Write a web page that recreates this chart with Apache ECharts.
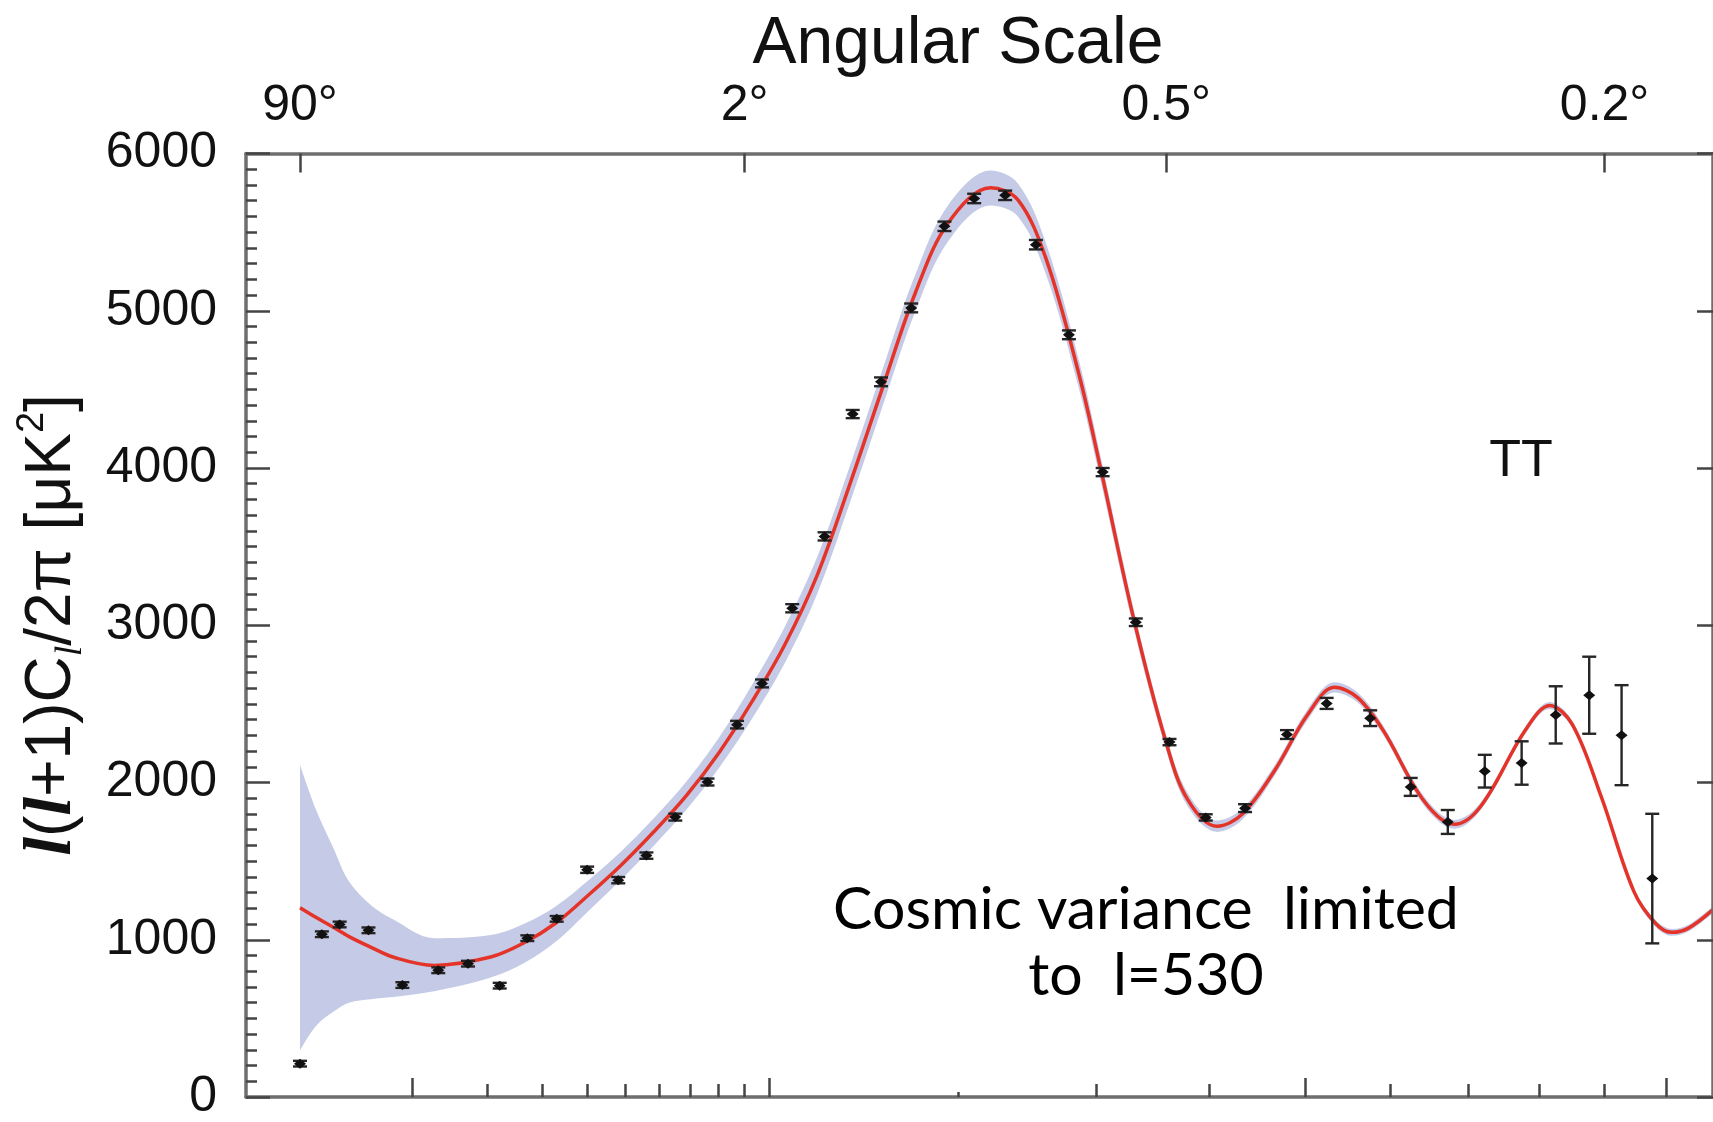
<!DOCTYPE html>
<html>
<head>
<meta charset="utf-8">
<title>TT power spectrum</title>
<script src="https://cdn.jsdelivr.net/npm/echarts@6.0.0/dist/echarts.min.js"></script>
<style>
  html, body { margin: 0; padding: 0; background: #fff; }
  #chart { width: 1713px; height: 1122px; }
</style>
</head>
<body>
<div id="chart"></div>
<script>
// binned data points: multipole, D_l, error
const dataL = [2, 3, 4, 6, 9, 13, 17, 22, 27, 33, 40, 48, 56, 65, 76, 87, 97, 110, 125, 139, 154, 171, 191, 210, 231, 253, 278, 305, 333, 363, 397, 436, 480, 524, 575, 625, 673, 723, 775, 825, 876, 927, 977];
const dataD = [212, 1035, 1097, 1060, 712, 806, 848, 708, 1010, 1133, 1445, 1379, 1535, 1780, 2003, 2368, 2630, 3108, 3565, 4343, 4548, 5018, 5537, 5714, 5734, 5420, 4847, 3974, 3019, 2257, 1778, 1837, 2305, 2503, 2409, 1972, 1749, 2072, 2124, 2430, 2555, 2301, 1389];
const dataE = [18, 18, 18, 18, 18, 18, 18, 18, 18, 18, 20, 20, 20, 22, 22, 24, 25, 26, 26, 26, 28, 28, 30, 30, 30, 30, 28, 26, 24, 20, 20, 25, 28, 35, 50, 57, 76, 104, 138, 182, 245, 318, 412];

// best fit model and cosmic variance band (same multipoles)
const modelL = [2, 2.7, 3.6, 4.6, 6.2, 8.1, 12.5, 20.5, 26.3, 32.9, 40.4, 48.9, 58.3, 68.8, 80.3, 92.9, 106.7, 121.5, 137.6, 154.9, 173.4, 193.2, 221, 240, 260.5, 285.7, 303, 330.8, 359.6, 379.7, 408, 433, 467, 502, 533, 560, 591, 632, 660, 682, 718, 780, 816, 850, 895, 947, 983, 1010, 1038, 1080];
const modelD = [1204, 1143, 1081, 1020, 952, 890, 837, 890, 979, 1108, 1286, 1477, 1688, 1920, 2193, 2514, 2876, 3319, 3899, 4513, 5113, 5557, 5782, 5705, 5331, 4601, 4008, 3053, 2262, 1893, 1722, 1798, 2078, 2426, 2605, 2540, 2330, 1955, 1784, 1734, 1852, 2330, 2490, 2370, 1907, 1306, 1102, 1047, 1074, 1190];
const bandUpper = [2111, 1830, 1590, 1370, 1220, 1130, 1010, 1030, 1100, 1215, 1380, 1565, 1775, 2010, 2290, 2620, 2990, 3435, 4015, 4630, 5230, 5670, 5892, 5810, 5430, 4690, 4085, 3115, 2310, 1935, 1758, 1833, 2112, 2460, 2638, 2572, 2360, 1985, 1812, 1762, 1876, 2352, 2512, 2392, 1929, 1328, 1124, 1069, 1096, 1212];
const bandLower = [296, 450, 540, 600, 622, 636, 672, 760, 850, 990, 1185, 1385, 1600, 1830, 2095, 2405, 2760, 3200, 3780, 4395, 4995, 5440, 5670, 5600, 5230, 4510, 3930, 2990, 2215, 1850, 1686, 1763, 2044, 2392, 2572, 2508, 2300, 1925, 1756, 1706, 1828, 2308, 2468, 2348, 1885, 1284, 1080, 1025, 1052, 1168];

// axis ticks
const bottomMajorL = [10, 100, 500, 1000];
const bottomMinorL = [20, 30, 40, 50, 60, 70, 80, 90, 300, 400, 600, 700, 800, 900];
const bottomShortL = [200];
const topTickL = [2, 90, 360, 900];
const topTickText = ['90°', '2°', '0.5°', '0.2°'];

// x axis runs in l^0.4
const T = l => Math.pow(l, 0.4);
const xMin = 0.745, xMax = 16.348;

const axisColor = '#6e6e6e';
const tickColor = '#444';
const sans = '"Liberation Sans", Arial, Helvetica, sans-serif';
const bandColor = '#c5cbe6';
const smoothness = 0.35;

const bottomAxis = (vals, len, showLine) => ({
  type: 'value', position: 'bottom', min: xMin, max: xMax, z: 10,
  axisLine: { show: showLine, onZero: false, lineStyle: { color: axisColor, width: 3.5 } },
  axisTick: { show: true, inside: true, length: len, customValues: vals.map(T), lineStyle: { color: tickColor, width: 2.5 } },
  axisLabel: { show: false },
  splitLine: { show: false }
});

const chart = echarts.init(document.getElementById('chart'));

const option = {
  animation: false,
  backgroundColor: '#fff',
  grid: { left: 246, top: 153.5, width: 1472, height: 960.5 },
  xAxis: [
    bottomAxis(bottomMajorL, 19, true),
    bottomAxis(bottomMinorL, 13, false),
    bottomAxis(bottomShortL, 5, false),
    {
      type: 'value', position: 'top', min: xMin, max: xMax, z: 10,
      axisLine: { show: true, onZero: false, lineStyle: { color: axisColor, width: 3.5 } },
      axisTick: { show: true, inside: true, length: 19, customValues: topTickL.map(T), lineStyle: { color: tickColor, width: 2.5 } },
      axisLabel: {
        show: true, customValues: topTickL.map(T), margin: 22,
        fontSize: 50, fontFamily: sans, color: '#111',
        formatter: v => {
          const i = topTickL.findIndex(l => Math.abs(T(l) - v) < 1e-6);
          return i >= 0 ? topTickText[i] : '';
        }
      },
      splitLine: { show: false }
    }
  ],
  yAxis: [
    {
      type: 'value', position: 'left', min: 0, max: 6000, interval: 1000, z: 10,
      axisLine: { show: true, onZero: false, lineStyle: { color: axisColor, width: 3.5 } },
      axisTick: { show: true, inside: true, length: 24, lineStyle: { color: tickColor, width: 2.5 } },
      minorTick: { show: true, splitNumber: 10, length: 11, lineStyle: { color: tickColor, width: 2.5 } },
      axisLabel: { margin: 29, fontSize: 50, fontFamily: sans, color: '#111', formatter: v => String(v) },
      splitLine: { show: false }
    },
    {
      type: 'value', position: 'right', min: 0, max: 6000, interval: 1000, z: 10,
      axisLine: { show: true, onZero: false, lineStyle: { color: axisColor, width: 3.5 } },
      axisTick: { show: true, inside: true, length: 16, lineStyle: { color: tickColor, width: 2.5 } },
      axisLabel: { show: false },
      splitLine: { show: false }
    }
  ],
  graphic: [
    {
      type: 'text', x: 958, y: 45, z: 100,
      style: { text: 'Angular Scale', fontSize: 66, fontFamily: sans, fill: '#111', align: 'center', verticalAlign: 'middle' }
    },
    {
      type: 'text', x: 1521, y: 462, z: 100,
      style: { text: 'TT', fontSize: 52, fontFamily: sans, fill: '#111', align: 'center', verticalAlign: 'middle' }
    },
    {
      type: 'text', x: 1146, y: 943, z: 100,
      style: {
        text: 'Cosmic variance  limited\nto  l=530', fontSize: 59, lineHeight: 66,
        fontFamily: 'Lato, "Noto Sans", sans-serif', fill: '#000', align: 'center', verticalAlign: 'middle'
      }
    },
    {
      type: 'text', x: 52, y: 625, rotation: Math.PI / 2, z: 100,
      style: {
        text: '{bl|l}{n|(}{bl|l}{n|+1)C}{sub|l}{n|/2π [μK}{sup|2}{n|]}',
        align: 'center', verticalAlign: 'middle', fill: '#111',
        rich: {
          n: { fontSize: 64, fontFamily: sans, lineHeight: 76, verticalAlign: 'middle', fill: '#111' },
          bl: { fontSize: 68, fontFamily: '"Liberation Serif", "DejaVu Serif", serif', fontWeight: 'bold', fontStyle: 'italic', lineHeight: 76, verticalAlign: 'middle', fill: '#111' },
          sub: { fontSize: 38, fontFamily: '"Liberation Serif", serif', fontStyle: 'italic', lineHeight: 34, verticalAlign: 'bottom', fill: '#111' },
          sup: { fontSize: 38, fontFamily: sans, lineHeight: 40, verticalAlign: 'top', fill: '#111' }
        }
      }
    }
  ],
  series: [
    {
      // band: fill under upper edge, then cover under lower edge with white
      name: 'cv-upper', type: 'line', smooth: smoothness, symbol: 'none',
      lineStyle: { width: 0, opacity: 0 },
      areaStyle: { color: bandColor, opacity: 1, origin: 'start' },
      data: modelL.map((l, i) => [T(l), bandUpper[i]]),
      z: 1
    },
    {
      name: 'cv-lower', type: 'line', smooth: smoothness, symbol: 'none',
      lineStyle: { width: 0, opacity: 0 },
      areaStyle: { color: '#ffffff', opacity: 1, origin: 'start' },
      data: modelL.map((l, i) => [T(l), bandLower[i]]),
      z: 2
    },
    {
      name: 'model', type: 'line', smooth: smoothness, symbol: 'none',
      lineStyle: { color: '#e4342a', width: 3.5 },
      data: modelL.map((l, i) => [T(l), modelD[i]]),
      z: 3
    },
    {
      name: 'data', type: 'custom',
      encode: { x: 0, y: 1 },
      data: dataL.map((l, i) => [T(l), dataD[i], dataE[i]]),
      renderItem: (params, api) => {
        const x = api.value(0), d = api.value(1), e = api.value(2);
        const top = api.coord([x, d + e]);
        const bot = api.coord([x, d - e]);
        const mid = api.coord([x, d]);
        const cap = 7, r = 5;
        const st = { stroke: '#262626', lineWidth: 2.4 };
        return {
          type: 'group',
          children: [
            { type: 'line', shape: { x1: top[0], y1: top[1], x2: bot[0], y2: bot[1] }, style: st },
            { type: 'line', shape: { x1: top[0] - cap, y1: top[1], x2: top[0] + cap, y2: top[1] }, style: st },
            { type: 'line', shape: { x1: bot[0] - cap, y1: bot[1], x2: bot[0] + cap, y2: bot[1] }, style: st },
            { type: 'polygon', shape: { points: [[mid[0], mid[1] - r], [mid[0] + r + 1, mid[1]], [mid[0], mid[1] + r], [mid[0] - r - 1, mid[1]]] }, style: { fill: '#111' } }
          ]
        };
      },
      z: 5
    }
  ]
};

chart.setOption(option);
window.addEventListener('resize', () => chart.resize());
</script>
</body>
</html>
